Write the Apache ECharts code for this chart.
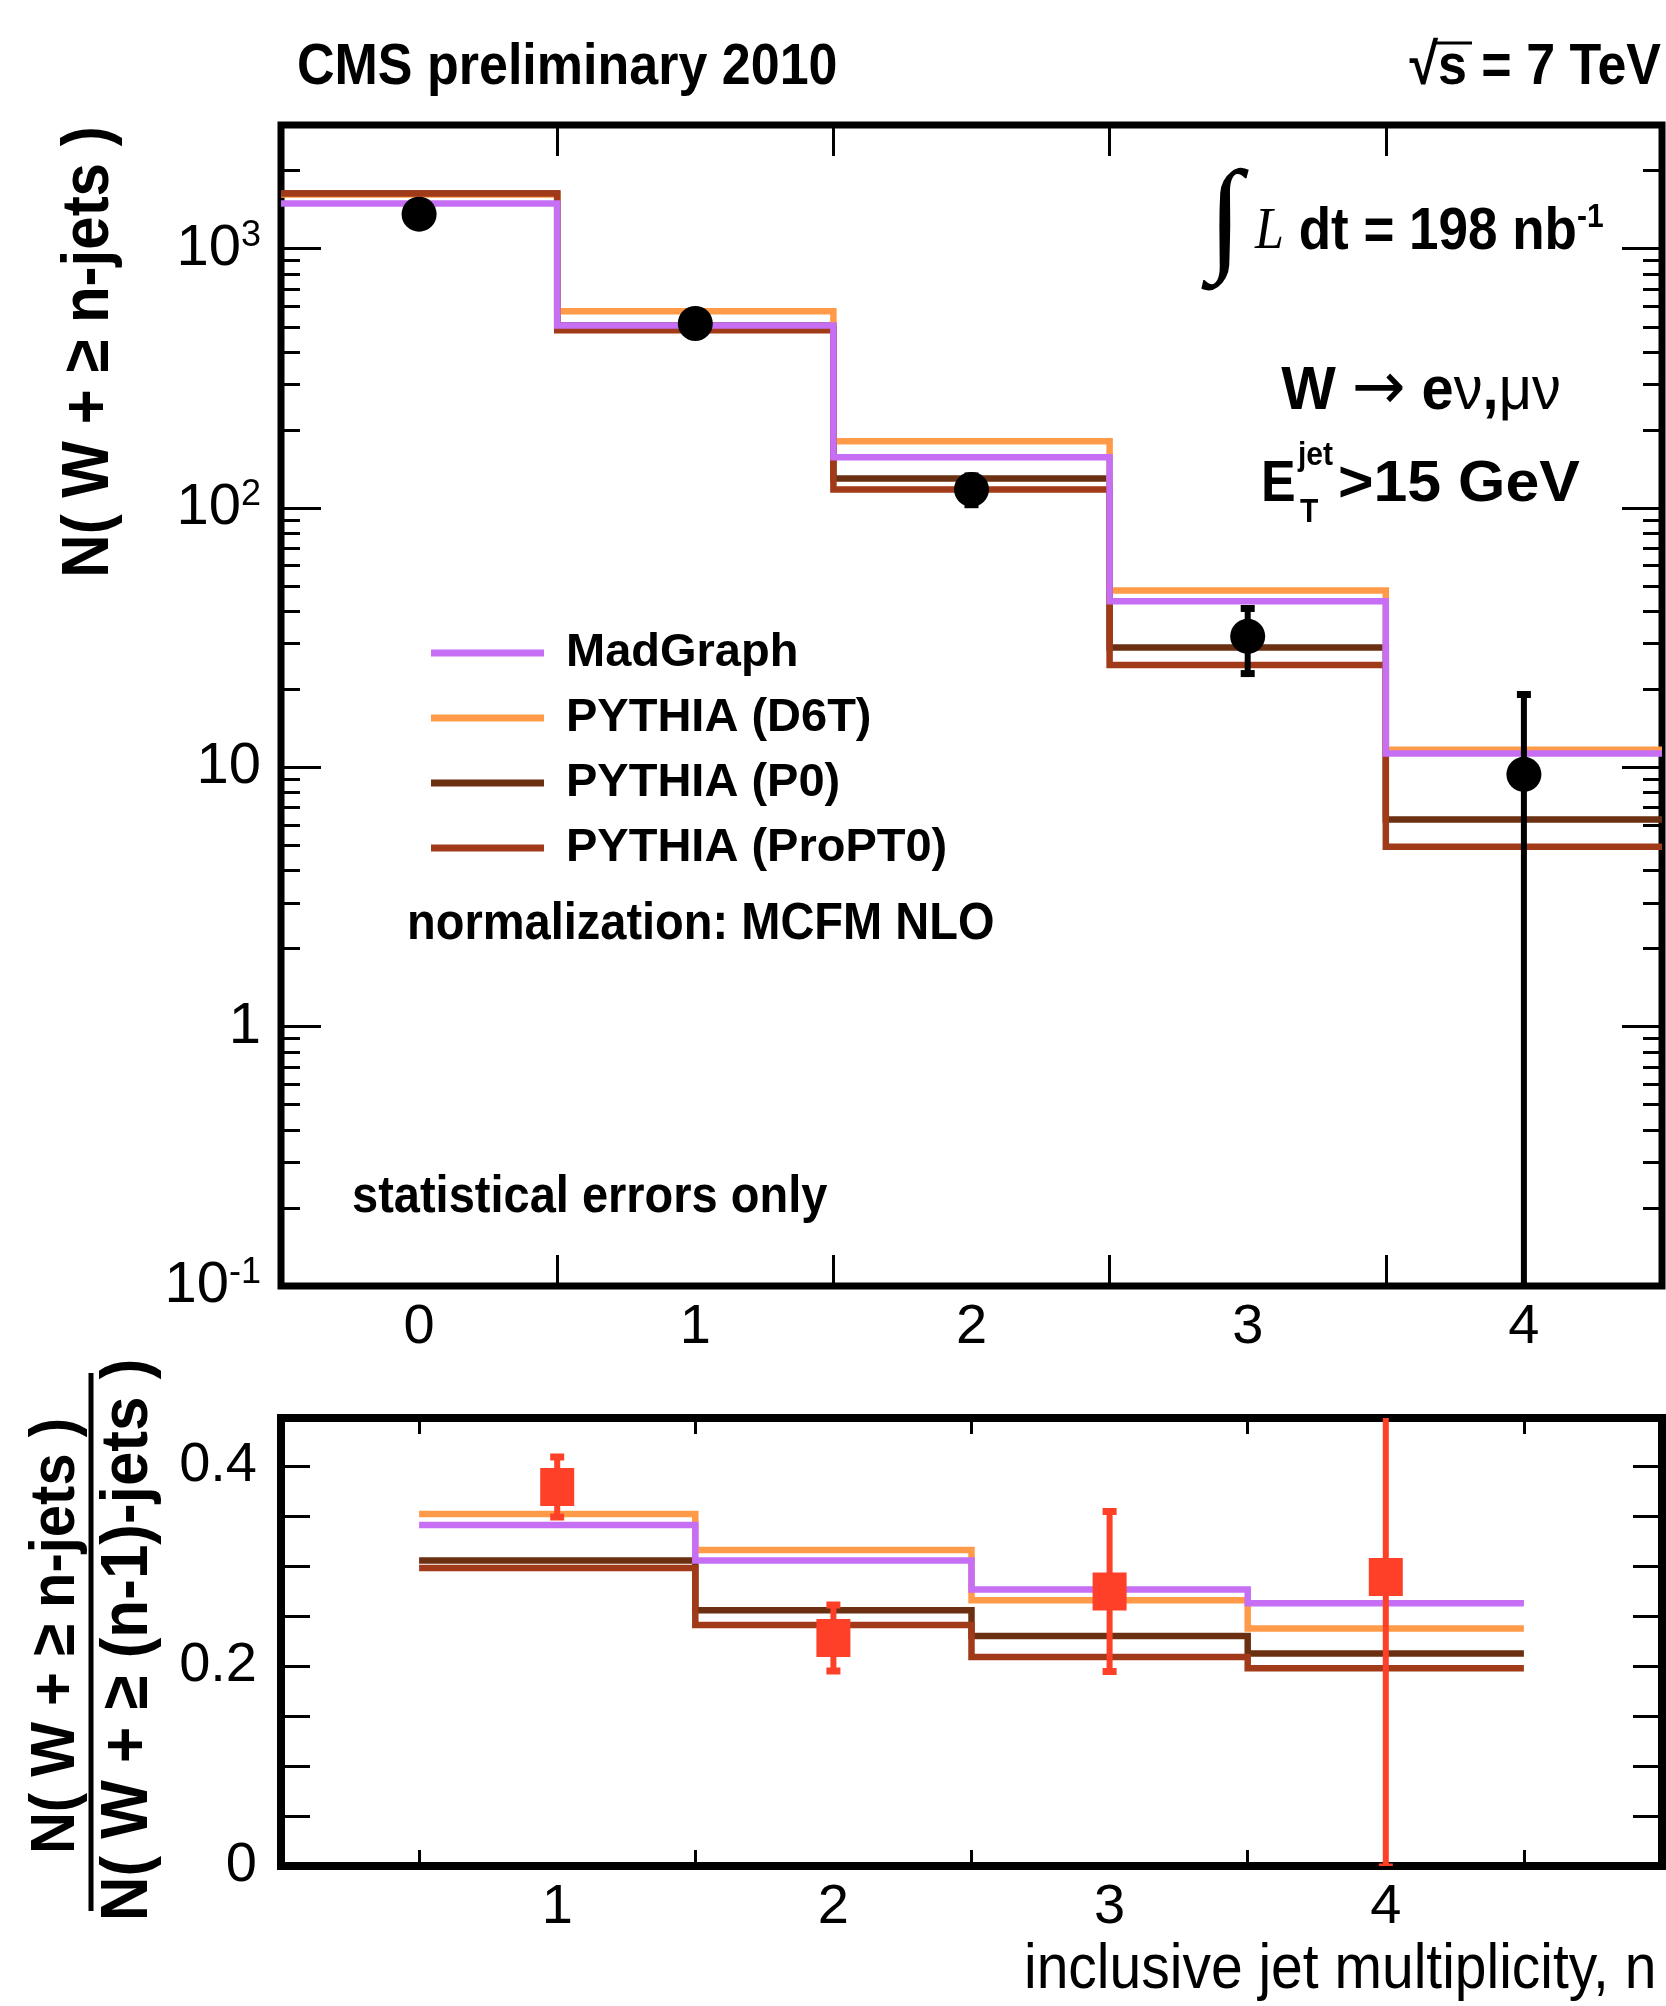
<!DOCTYPE html>
<html>
<head>
<meta charset="utf-8">
<title>W + n-jets, CMS preliminary 2010</title>
<script src="https://cdn.jsdelivr.net/npm/echarts@6.0.0/dist/echarts.min.js"></script>
<style>
html, body { margin: 0; padding: 0; background: #fff; }
#main { width: 1666px; height: 2006px; }
</style>
</head>
<body>
<div id="main"></div>
<script>
var FONT = 'Liberation Sans, Arial, Helvetica, sans-serif';
var SERIF = 'Liberation Serif, Times New Roman, serif';

// top panel: N(W + >= n jets)
var jetBins = [0, 1, 2, 3, 4];
var dataCounts = [1359, 515, 118, 32, 9.4];
var dataErrors = [40, 25, 15, 9, 9.7];
var madgraph = [1493, 506, 157, 43.7, 11.3];
var pythiaD6T = [1620, 574, 181, 48.1, 11.7];
var pythiaP0 = [1632, 506, 130, 29.0, 6.3];
var pythiaProPT0 = [1632, 485, 118, 24.8, 4.94];

// bottom panel: N(>= n) / N(>= n-1)
var ratioBins = [1, 2, 3, 4];
var ratioData = [0.379, 0.228, 0.2745, 0.289];
var ratioErrors = [0.03, 0.033, 0.08, 0.29];
var ratioMadgraph = [0.341, 0.3055, 0.2766, 0.2628];
var ratioD6T = [0.352, 0.316, 0.2657, 0.2376];
var ratioP0 = [0.3055, 0.2557, 0.230, 0.2125];
var ratioProPT0 = [0.298, 0.241, 0.209, 0.1978];

// ticks and labels
var topEdges = [0.5, 1.5, 2.5, 3.5];
var bottomEdges = [0.5, 1.5, 2.5, 3.5, 4.5];
var logMajor = [0.1, 1, 10, 100, 1000];
var logMinor = [];
logMajor.forEach(function (p) {
    for (var k = 2; k <= 9; k++) {
        if (p * k <= 3000) logMinor.push(+(p * k).toPrecision(3));
    }
});
var ratioTicks = [0.05, 0.1, 0.15, 0.2, 0.25, 0.3, 0.35, 0.4];
var ratioLabels = [0, 0.2, 0.4];

var colMadgraph = '#c66ef4';
var colD6T = '#ff9b48';
var colP0 = '#6b3011';
var colProPT0 = '#a03a18';
var colRatio = '#ff4028';

function steps(centers, values) {
    var pts = [];
    for (var i = 0; i < centers.length; i++) {
        pts.push([centers[i] - 0.5, values[i]]);
        pts.push([centers[i] + 0.5, values[i]]);
    }
    return pts;
}

function histLine(name, color, xi, yi, centers, values, z) {
    return {
        name: name, type: 'line', xAxisIndex: xi, yAxisIndex: yi,
        data: steps(centers, values),
        showSymbol: false, symbol: 'none', color: color,
        itemStyle: { color: color },
        lineStyle: { color: color, width: 6.5, cap: 'butt', join: 'miter' },
        z: z, silent: true, clip: true
    };
}

function errorBars(xi, yi, centers, values, errs, floor, color, z) {
    return {
        type: 'custom', xAxisIndex: xi, yAxisIndex: yi, clip: true, silent: true, z: z,
        data: centers.map(function (c, i) {
            return [c, values[i] + errs[i], Math.max(values[i] - errs[i], floor)];
        }),
        renderItem: function (params, api) {
            var hi = api.coord([api.value(0), api.value(1)]);
            var lo = api.coord([api.value(0), api.value(2)]);
            var cw = 14, ch = 7;
            return {
                type: 'group',
                children: [
                    { type: 'line', shape: { x1: hi[0], y1: hi[1], x2: lo[0], y2: lo[1] }, style: { stroke: color, lineWidth: 6 } },
                    { type: 'rect', shape: { x: hi[0] - cw / 2, y: hi[1] - ch / 2, width: cw, height: ch }, style: { fill: color } },
                    { type: 'rect', shape: { x: lo[0] - cw / 2, y: lo[1] - ch / 2, width: cw, height: ch }, style: { fill: color } }
                ]
            };
        }
    };
}

function pairs(xs, ys) {
    return xs.map(function (x, i) { return [x, ys[i]]; });
}

function txt(str, x, y, size, o) {
    o = o || {};
    return {
        type: 'text', x: x, y: y, rotation: o.rotation || 0,
        scaleX: o.scaleX || 1, scaleY: o.scaleY || 1.12, silent: true, z: 20,
        style: {
            text: str, fontSize: size, fontWeight: o.weight || 'bold',
            fontFamily: o.family || FONT, fontStyle: o.fontStyle || 'normal',
            fill: '#000', align: o.align || 'left', verticalAlign: 'middle', rich: o.rich
        }
    };
}

var tickStyle = { color: '#000', width: 3 };

function xTicks(grid, min, max, pos, edges, len, labels) {
    return {
        gridIndex: grid, type: 'value', min: min, max: max, position: pos,
        axisLine: { show: false, onZero: false }, splitLine: { show: false },
        axisTick: { show: true, inside: true, length: len, customValues: edges, lineStyle: tickStyle },
        axisLabel: labels ? {
            show: true, customValues: labels, margin: 14, fontSize: 56,
            fontFamily: FONT, color: '#000'
        } : { show: false }
    };
}

function logAxis(pos, ticks, len, withLabels) {
    return {
        gridIndex: 0, type: 'log', logBase: 10, min: 0.1, max: 3000, position: pos,
        axisLine: { show: false, onZero: false }, splitLine: { show: false },
        axisTick: { show: true, inside: true, length: len, customValues: ticks, lineStyle: tickStyle },
        axisLabel: withLabels ? {
            show: true, customValues: logMajor, margin: 20,
            formatter: function (v) {
                var e = Math.round(Math.log(v) / Math.LN10);
                if (e === 0) return '{b|1}';
                if (e === 1) return '{b|10}';
                return '{b|10}{s|' + e + '}';
            },
            rich: {
                b: { fontSize: 58, fontFamily: FONT, color: '#000', lineHeight: 62 },
                s: { fontSize: 36, fontFamily: FONT, color: '#000', lineHeight: 34, verticalAlign: 'top' }
            }
        } : { show: false }
    };
}

function ratioAxis(pos, withLabels) {
    return {
        gridIndex: 1, type: 'value', min: 0, max: 0.448, position: pos,
        axisLine: { show: false, onZero: false }, splitLine: { show: false },
        axisTick: { show: true, inside: true, length: 29, customValues: ratioTicks, lineStyle: tickStyle },
        axisLabel: withLabels ? {
            show: true, customValues: ratioLabels, margin: 24, fontSize: 56,
            fontFamily: FONT, color: '#000'
        } : { show: false }
    };
}

var myChart = echarts.init(document.getElementById('main'), null, { renderer: 'canvas' });

var option = {
    animation: false,
    backgroundColor: '#fff',
    textStyle: { fontFamily: FONT },
    grid: [
        { left: 281, top: 125, width: 1381, height: 1161, show: true, borderColor: '#000', borderWidth: 7, backgroundColor: 'transparent' },
        { left: 281, top: 1418, width: 1381, height: 448, show: true, borderColor: '#000', borderWidth: 8, backgroundColor: 'transparent' }
    ],
    xAxis: [
        xTicks(0, -0.5, 4.5, 'bottom', topEdges, 31, jetBins),
        xTicks(0, -0.5, 4.5, 'top', topEdges, 31, null),
        xTicks(1, 0, 5, 'bottom', bottomEdges, 16, ratioBins),
        xTicks(1, 0, 5, 'top', bottomEdges, 16, null)
    ],
    yAxis: [
        logAxis('left', logMajor, 40, true),
        logAxis('left', logMinor, 19, false),
        logAxis('right', logMajor, 40, false),
        logAxis('right', logMinor, 19, false),
        ratioAxis('left', true),
        ratioAxis('right', false)
    ],
    legend: {
        data: ['MadGraph', 'PYTHIA (D6T)', 'PYTHIA (P0)', 'PYTHIA (ProPT0)'],
        orient: 'vertical', left: 431, top: 628, padding: 0,
        itemWidth: 113, itemHeight: 7, itemGap: 15, icon: 'rect',
        selectedMode: false,
        textStyle: { fontSize: 47, fontWeight: 'bold', fontFamily: FONT, color: '#000', lineHeight: 50, padding: [0, 0, 0, 17] }
    },
    series: [
        histLine('PYTHIA (P0)', colP0, 0, 0, jetBins, pythiaP0, 2),
        histLine('PYTHIA (D6T)', colD6T, 0, 0, jetBins, pythiaD6T, 3),
        histLine('PYTHIA (ProPT0)', colProPT0, 0, 0, jetBins, pythiaProPT0, 4),
        histLine('MadGraph', colMadgraph, 0, 0, jetBins, madgraph, 5),
        errorBars(0, 0, jetBins, dataCounts, dataErrors, 0.01, '#000', 6),
        {
            name: 'data', type: 'scatter', xAxisIndex: 0, yAxisIndex: 0,
            data: pairs(jetBins, dataCounts), symbol: 'circle', symbolSize: 35,
            itemStyle: { color: '#000', opacity: 1 }, z: 7, silent: true
        },
        histLine('PYTHIA (P0)', colP0, 2, 4, ratioBins, ratioP0, 2),
        histLine('PYTHIA (D6T)', colD6T, 2, 4, ratioBins, ratioD6T, 3),
        histLine('PYTHIA (ProPT0)', colProPT0, 2, 4, ratioBins, ratioProPT0, 4),
        histLine('MadGraph', colMadgraph, 2, 4, ratioBins, ratioMadgraph, 5),
        errorBars(2, 4, ratioBins, ratioData, ratioErrors, -1, colRatio, 6),
        {
            name: 'ratio', type: 'scatter', xAxisIndex: 2, yAxisIndex: 4,
            data: pairs(ratioBins, ratioData), symbol: 'rect', symbolSize: [34, 38],
            itemStyle: { color: colRatio, opacity: 1 }, z: 7, silent: true
        }
    ],
    graphic: [
        txt('CMS preliminary 2010', 297, 68, 52),
        txt('\u221As = 7 TeV', 1661, 68, 52, { align: 'right' }),
        { type: 'line', silent: true, z: 20, shape: { x1: 1436, y1: 43, x2: 1472, y2: 43 }, style: { stroke: '#000', lineWidth: 3 } },
        txt('\u222B', 1225, 224, 125, { family: SERIF, weight: 'normal', align: 'center', scaleY: 1 }),
        {
            type: 'text', x: 1255, y: 233, scaleY: 1.12, silent: true, z: 20,
            style: {
                text: '{L|L}{b| dt = 198 nb}{s|-1}', align: 'left', verticalAlign: 'middle', fill: '#000',
                rich: {
                    L: { fontFamily: SERIF, fontStyle: 'italic', fontSize: 52, lineHeight: 58, fill: '#000' },
                    b: { fontFamily: FONT, fontWeight: 'bold', fontSize: 53, lineHeight: 58, fill: '#000' },
                    s: { fontFamily: FONT, fontWeight: 'bold', fontSize: 30, lineHeight: 30, verticalAlign: 'top', fill: '#000' }
                }
            }
        },
        {
            type: 'text', x: 1421, y: 392, scaleX: 1.07, scaleY: 1.12, silent: true, z: 20,
            style: {
                text: '{b|W }{a|\u2192}{b| e}{r|\u03BD}{b|,}{r|\u03BC\u03BD}', align: 'center', verticalAlign: 'middle', fill: '#000',
                rich: {
                    b: { fontFamily: FONT, fontWeight: 'bold', fontSize: 54, lineHeight: 58, fill: '#000' },
                    a: { fontFamily: 'DejaVu Sans, sans-serif', fontWeight: 'normal', fontSize: 60, lineHeight: 58, fill: '#000' },
                    r: { fontFamily: FONT, fontWeight: 'normal', fontSize: 54, lineHeight: 58, fill: '#000' }
                }
            }
        },
        txt('E', 1261, 485, 52),
        txt('jet', 1298, 456, 30),
        txt('T', 1300, 513, 30),
        txt('>15 GeV', 1338, 485, 52, { scaleX: 1.17 }),
        txt('normalization: MCFM NLO', 407, 924, 47),
        txt('statistical errors only', 352, 1197, 47),
        txt('N( W + \u2265 n-jets )', 90, 352, 60, { rotation: Math.PI / 2, align: 'center', scaleY: 1.1 }),
        txt('N( W + \u2265 n-jets )', 56, 1636, 58, { rotation: Math.PI / 2, align: 'center', scaleY: 1.1 }),
        txt('N( W + \u2265 (n-1)-jets )', 129, 1640, 62, { rotation: Math.PI / 2, align: 'center', scaleY: 1.08 }),
        { type: 'line', silent: true, z: 20, shape: { x1: 91, y1: 1373, x2: 91, y2: 1911 }, style: { stroke: '#000', lineWidth: 5 } },
        txt('inclusive jet multiplicity, n', 1024, 1971, 57, { weight: 'normal', scaleY: 1.1 })
    ]
};

myChart.setOption(option);
</script>
</body>
</html>
